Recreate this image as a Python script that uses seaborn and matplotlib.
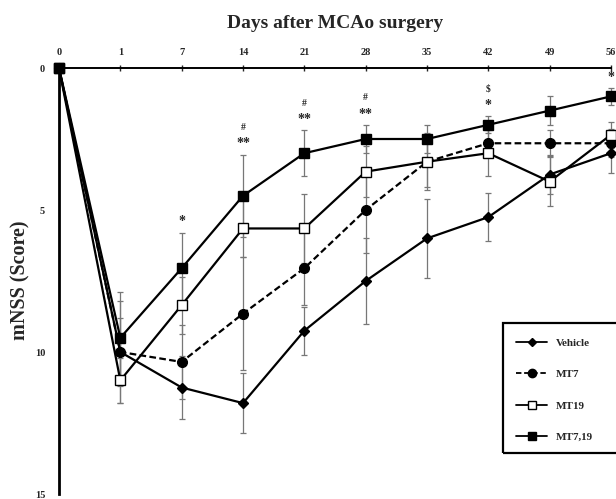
import numpy as np
import pandas as pd
import matplotlib
matplotlib.use("Agg")
import matplotlib.pyplot as plt
from matplotlib.lines import Line2D
from matplotlib.patches import Rectangle
import seaborn as sns

# Time points (days after MCAo surgery)
days = ["0", "1", "7", "14", "21", "28", "35", "42", "49", "56"]

# mNSS scores (mean) per treatment group
vehicle = [0, 10.0, 11.25, 11.8, 9.25, 7.5, 6.0, 5.25, 3.75, 3.0]
mt7 = [0, 10.0, 10.35, 8.65, 7.05, 5.0, 3.3, 2.65, 2.65, 2.65]
mt19 = [0, 11.0, 8.35, 5.65, 5.65, 3.65, 3.3, 3.0, 4.0, 2.35]
mt7_19 = [0, 9.5, 7.05, 4.5, 3.0, 2.5, 2.5, 2.0, 1.5, 1.0]

# Standard errors
vehicle_se = [0, 1.8, 1.1, 1.05, 0.85, 1.5, 1.4, 0.85, 0.7, 0.7]
mt7_se = [0, 1.2, 1.3, 2.0, 1.3, 1.5, 0.9, 0.5, 0.45, 0.5]
mt19_se = [0, 0.8, 1.0, 1.0, 1.2, 0.9, 1.0, 0.8, 0.85, 0.45]
mt7_19_se = [0, 1.6, 1.25, 1.45, 0.8, 0.5, 0.5, 0.3, 0.5, 0.3]

# Significance marks above the MT7,19 series: (time index, lower text, upper text)
sig_marks = [(2, "*", ""), (3, "**", "#"), (4, "**", "#"), (5, "**", "#"),
             (7, "*", "$"), (9, "*", "")]

groups = ["Vehicle", "MT7", "MT19", "MT7,19"]
means = {"Vehicle": vehicle, "MT7": mt7, "MT19": mt19, "MT7,19": mt7_19}
ses = {"Vehicle": vehicle_se, "MT7": mt7_se, "MT19": mt19_se, "MT7,19": mt7_19_se}

styles = {
    "Vehicle": dict(marker="D", ms=5, mfc="black", ls="-"),
    "MT7": dict(marker="o", ms=7, mfc="black", ls=(0, (3, 1.5))),
    "MT19": dict(marker="s", ms=7, mfc="white", ls="-"),
    "MT7,19": dict(marker="s", ms=7, mfc="black", ls="-"),
}

rows = []
for g in groups:
    for i, d in enumerate(days):
        rows.append({"group": g, "pos": i, "day": d, "score": means[g][i], "se": ses[g][i]})
df = pd.DataFrame(rows)

sns.set_style("white")
serif = ["Liberation Serif", "DejaVu Serif"]
plt.rcParams["font.family"] = serif
plt.rcParams["font.weight"] = "bold"

fig = plt.figure(figsize=(6.16, 4.99), dpi=100)
ax = fig.add_axes([59 / 616, 1 - 494 / 499, (611 - 59) / 616, (494 - 68) / 499])

# error bars first so the lines sit on top
for g in groups:
    sub = df[df.group == g]
    ax.errorbar(sub.pos, sub.score, yerr=sub.se, fmt="none", ecolor="#777777",
                elinewidth=0.9, capsize=2.5, capthick=0.9, zorder=2, clip_on=False)

for g in groups:
    sub = df[df.group == g]
    st = styles[g]
    sns.lineplot(data=sub, x="pos", y="score", ax=ax, color="black", lw=1.6,
                 linestyle=st["ls"], marker=st["marker"], markersize=st["ms"],
                 markerfacecolor=st["mfc"], markeredgecolor="black", markeredgewidth=1.0,
                 errorbar=None, clip_on=False, zorder=3, legend=False)

# significance annotations
for idx, low, high in sig_marks:
    top = mt7_19[idx] - mt7_19_se[idx]
    ax.text(idx, top - 0.38, low, ha="center", va="center", fontsize=10, fontweight="bold")
    if high:
        ax.text(idx, top - 0.95, high, ha="center", va="center", fontsize=7, fontweight="bold")

ax.set_xlim(0, 9)
ax.set_ylim(15, 0)
ax.xaxis.tick_top()
ax.xaxis.set_label_position("top")
ax.set_xticks(range(len(days)))
ax.set_xticklabels(days, fontsize=7.5, fontweight="bold")
ax.set_yticks([0, 5, 10, 15])
ax.set_yticklabels(["0", "5", "10", "15"], fontsize=7.5, fontweight="bold")
ax.tick_params(axis="x", direction="inout", length=4, width=1, pad=6)
ax.tick_params(axis="y", direction="out", length=4, width=1.2, pad=6)

for side in ["right", "bottom"]:
    ax.spines[side].set_visible(False)
ax.spines["top"].set_linewidth(1.4)
ax.spines["left"].set_linewidth(2.0)
ax.spines["top"].set_color("black")
ax.spines["left"].set_color("black")

ax.set_xlabel("Days after MCAo surgery", fontsize=14, fontweight="bold", labelpad=14)
ax.set_ylabel("mNSS (Score)", fontsize=14.5, fontweight="bold")
ax.yaxis.set_label_coords(-0.052, 0.502)

# legend with a frame that runs off the right edge
handles = []
for g in groups:
    st = styles[g]
    handles.append(Line2D([0], [0], color="black", lw=1.3, linestyle=st["ls"],
                          marker=st["marker"], markersize=st["ms"] - 1,
                          markerfacecolor=st["mfc"], markeredgecolor="black"))
leg = ax.legend(handles, groups, loc="upper left", bbox_to_anchor=(0.81, 0.39),
                frameon=False, prop={"family": serif, "weight": "bold", "size": 8},
                handlelength=2.8, labelspacing=1.95, handletextpad=0.8)
ax.add_patch(Rectangle((0.805, 0.097), 0.25, 0.305, transform=ax.transAxes,
                       fill=False, ec="black", lw=1.6, clip_on=False, zorder=5))

fig.savefig("out.png", dpi=100)
